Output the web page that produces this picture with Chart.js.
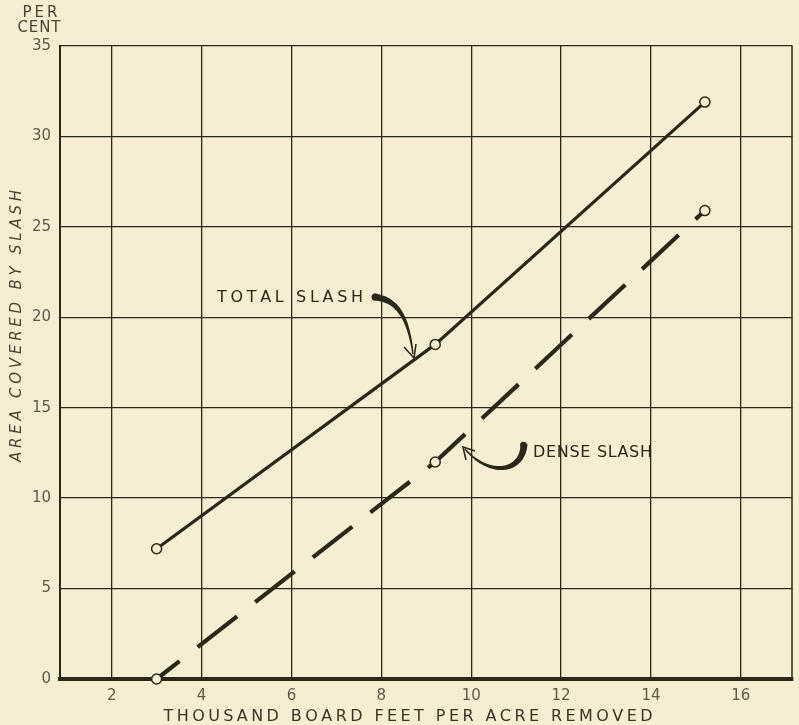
<!DOCTYPE html>
<html><head><meta charset="utf-8">
<script src="https://cdn.jsdelivr.net/npm/chart.js@4"></script>
<style>html,body{margin:0;padding:0;background:#f6eed2;}#wrap{width:799px;height:725px;position:relative;background:#f6eed2}</style>
</head><body><div id="wrap"><canvas id="c" width="799" height="725"></canvas></div>
<script>
const xTicks = [2, 4, 6, 8, 10, 12, 14, 16];
const yTicks = [0, 5, 10, 15, 20, 25, 30, 35];
const totalX = [3, 9.2, 15.2];
const totalY = [7.2, 18.5, 31.9];
const denseX = [3, 9.2, 15.2];
const denseY = [0, 12, 25.9];
const xTitle = 'THOUSAND BOARD FEET PER ACRE REMOVED';
const yTitle = 'AREA COVERED BY SLASH';
const unitLabel = ['PER', 'CENT'];
const labelTotal = 'TOTAL SLASH';
const labelDense = 'DENSE SLASH';

const BG = '#f6eed2';
const INK = '#2b2719';
const FONT = '"DejaVu Sans", sans-serif';

function spaced(ctx, text, x, y, width, align) {
  const chars = [...text];
  const ws = chars.map(c => ctx.measureText(c).width);
  const total = ws.reduce((a, b) => a + b, 0);
  const extra = chars.length > 1 ? (width - total) / (chars.length - 1) : 0;
  let cx = align === 'center' ? x - width / 2 : x;
  ctx.textAlign = 'left';
  chars.forEach((c, i) => { ctx.fillText(c, cx, y); cx += ws[i] + extra; });
}

function taper(ctx, pts, w0, w1) {
  const n = pts.length, L = [], R = [];
  for (let i = 0; i < n; i++) {
    const a = pts[Math.max(0, i - 1)], b = pts[Math.min(n - 1, i + 1)];
    let dx = b[0] - a[0], dy = b[1] - a[1];
    const len = Math.hypot(dx, dy) || 1; dx /= len; dy /= len;
    const w = (w0 + (w1 - w0) * i / (n - 1)) / 2;
    L.push([pts[i][0] - dy * w, pts[i][1] + dx * w]);
    R.push([pts[i][0] + dy * w, pts[i][1] - dx * w]);
  }
  ctx.beginPath();
  ctx.moveTo(L[0][0], L[0][1]);
  L.forEach(p => ctx.lineTo(p[0], p[1]));
  R.reverse().forEach(p => ctx.lineTo(p[0], p[1]));
  ctx.closePath(); ctx.fill();
}
function cubic(p0, p1, p2, p3, n) {
  const out = [];
  for (let i = 0; i <= n; i++) {
    const t = i / n, u = 1 - t;
    out.push([u*u*u*p0[0] + 3*u*u*t*p1[0] + 3*u*t*t*p2[0] + t*t*t*p3[0],
              u*u*u*p0[1] + 3*u*u*t*p1[1] + 3*u*t*t*p2[1] + t*t*t*p3[1]]);
  }
  return out;
}

const deco = {
  id: 'deco',
  beforeDraw(chart) {
    const ctx = chart.ctx;
    ctx.save(); ctx.fillStyle = BG; ctx.fillRect(0, 0, chart.width, chart.height); ctx.restore();
  },
  afterDraw(chart) {
    const ctx = chart.ctx, a = chart.chartArea;
    ctx.save();
    // right frame edge
    ctx.strokeStyle = INK; ctx.lineWidth = 1.5;
    ctx.beginPath(); ctx.moveTo(a.right - 0.5, a.top); ctx.lineTo(a.right - 0.5, a.bottom); ctx.stroke();

    ctx.fillStyle = '#4a4536';
    ctx.textBaseline = 'middle';
    ctx.font = '15px ' + FONT;
    spaced(ctx, unitLabel[0], 40, 13, 35, 'center');
    spaced(ctx, unitLabel[1], 39, 28, 43, 'center');

    ctx.fillStyle = '#3a3526';
    ctx.font = '16px ' + FONT;
    spaced(ctx, xTitle, 408, 717, 489, 'center');

    ctx.save();
    ctx.translate(17, 326); ctx.rotate(-Math.PI / 2);
    ctx.font = 'oblique 15px ' + FONT;
    ctx.fillStyle = '#4a4536';
    spaced(ctx, yTitle, 0, 0, 272, 'center');
    ctx.restore();

    ctx.fillStyle = INK;
    ctx.font = '16px ' + FONT;
    spaced(ctx, labelTotal, 217, 298, 146, 'left');
    ctx.font = '16px ' + FONT;
    spaced(ctx, labelDense, 533, 453, 119, 'left');

    // total slash arrow
    ctx.fillStyle = INK; ctx.strokeStyle = INK;
    taper(ctx, cubic([374, 297], [396, 299], [408, 315], [413, 354], 40), 7, 1.4);
    ctx.beginPath(); ctx.arc(375, 297, 3.5, 0, Math.PI * 2); ctx.fill();
    ctx.lineWidth = 1.6;
    ctx.beginPath(); ctx.moveTo(404, 347); ctx.lineTo(414, 358); ctx.lineTo(416, 344); ctx.stroke();

    // dense slash arrow
    taper(ctx, cubic([524, 444], [523, 472], [490, 478], [465, 449], 40), 7, 1.4);
    ctx.beginPath(); ctx.arc(523.5, 445, 3.3, 0, Math.PI * 2); ctx.fill();
    ctx.beginPath(); ctx.moveTo(466, 460); ctx.lineTo(463, 447); ctx.lineTo(475, 451); ctx.stroke();
    ctx.restore();
  }
};

const mk = (xs, ys) => xs.map((x, i) => ({ x, y: ys[i] }));

new Chart(document.getElementById('c'), {
  type: 'line',
  data: {
    datasets: [
      { label: labelTotal, data: mk(totalX, totalY), borderColor: INK, borderWidth: 3.2,
        pointRadius: 5, pointBackgroundColor: BG, pointBorderColor: INK, pointBorderWidth: 1.5,
        tension: 0, clip: false },
      { label: labelDense, data: mk(denseX, denseY), borderColor: INK, borderWidth: 4.2,
        borderDash: [50, 23], borderDashOffset: 21,
        pointRadius: 5, pointBackgroundColor: BG, pointBorderColor: INK, pointBorderWidth: 1.5,
        tension: 0, clip: false }
    ]
  },
  options: {
    responsive: false, animation: false, devicePixelRatio: 1,
    layout: { padding: { top: 46, right: 2, left: 0, bottom: 0 } },
    plugins: { legend: { display: false }, tooltip: { enabled: false } },
    scales: {
      x: {
        type: 'linear', min: 0.85, max: 17.15,
        afterBuildTicks: s => { s.ticks = xTicks.map(v => ({ value: v })); },
        afterFit: s => { s.height = 46; },
        grid: { color: INK, lineWidth: 1.3, drawTicks: false },
        border: { display: true, color: INK, width: 4 },
        ticks: { color: '#5f5949', padding: 8, font: { family: FONT, size: 15 }, callback: v => String(v) }
      },
      y: {
        type: 'linear', min: 0, max: 35,
        afterBuildTicks: s => { s.ticks = yTicks.map(v => ({ value: v })); },
        afterFit: s => { s.width = 60; },
        grid: { color: INK, lineWidth: c => (c.tick && c.tick.value === 0 ? 0 : 1.3), drawTicks: false },
        border: { display: true, color: INK, width: 2 },
        ticks: { color: '#5f5949', padding: 9, font: { family: FONT, size: 15 }, callback: v => String(v) }
      }
    }
  },
  plugins: [deco]
});
</script></body></html>
